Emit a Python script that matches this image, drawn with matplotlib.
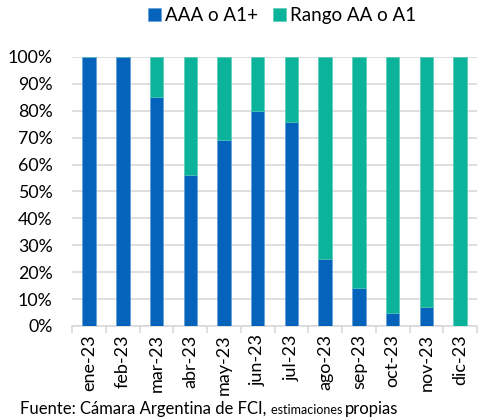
import matplotlib
matplotlib.use('Agg')
import matplotlib.pyplot as plt
from matplotlib.ticker import PercentFormatter, FixedLocator

plt.rcParams['font.family'] = ['Lato', 'DejaVu Sans']

meses = ['ene-23', 'feb-23', 'mar-23', 'abr-23', 'may-23', 'jun-23',
         'jul-23', 'ago-23', 'sep-23', 'oct-23', 'nov-23', 'dic-23']
aaa = [100, 100, 85, 56, 69, 80, 76, 25, 14, 5, 7, 0]
rango_aa = [100 - v for v in aaa]

azul = '#0563bb'
verde = '#0bb39a'

fig = plt.figure(figsize=(4.78, 4.19), dpi=100)
ax = fig.add_axes([0.151, 0.222, 0.847, 0.642])

x = range(len(meses))
ax.bar(x, aaa, width=0.4, color=azul, edgecolor='#5b9bd5', linewidth=0.4,
       label='AAA o A1+', zorder=3)
ax.bar(x, rango_aa, width=0.4, bottom=aaa, color=verde, edgecolor='#4fc9b4',
       linewidth=0.4, label='Rango AA o A1', zorder=3)

ax.set_ylim(0, 100)
ax.set_xlim(-0.5, len(meses) - 0.5)
ax.set_yticks(range(0, 101, 10))
ax.yaxis.set_major_formatter(PercentFormatter(decimals=0))
ax.grid(axis='y', color='#d9d9d9', linewidth=1.2, zorder=0)

ax.set_xticks(list(x))
ax.set_xticklabels(meses, rotation=90, fontsize=13)
ax.tick_params(axis='x', which='major', length=0, pad=6)
ax.xaxis.set_minor_locator(FixedLocator([i - 0.5 for i in range(len(meses) + 1)]))
ax.tick_params(axis='x', which='minor', length=5, color='#d9d9d9', width=1.2)
ax.tick_params(axis='y', length=0, pad=14, labelsize=12.8)

for s in ['top', 'right', 'left']:
    ax.spines[s].set_visible(False)
ax.spines['bottom'].set_color('#d9d9d9')
ax.spines['bottom'].set_linewidth(1.2)

fig.legend(loc='center', bbox_to_anchor=(0.59, 0.962), ncol=2, frameon=False,
           fontsize=13.5, handlelength=0.7, handleheight=0.7,
           handletextpad=0.2, columnspacing=0.8)

# fuente, con "estimaciones" mas chico
fig.canvas.draw()
r = fig.canvas.get_renderer()
partes = [('Fuente: Cámara Argentina de FCI, ', 12), ('estimaciones ', 9), ('propias', 12)]
xpos = 20
for txt, tam in partes:
    t = fig.text(xpos / 478, 1 - 414 / 419, txt, fontsize=tam, va='baseline', ha='left')
    xpos += t.get_window_extent(r).width

fig.savefig('out.png', dpi=100)
